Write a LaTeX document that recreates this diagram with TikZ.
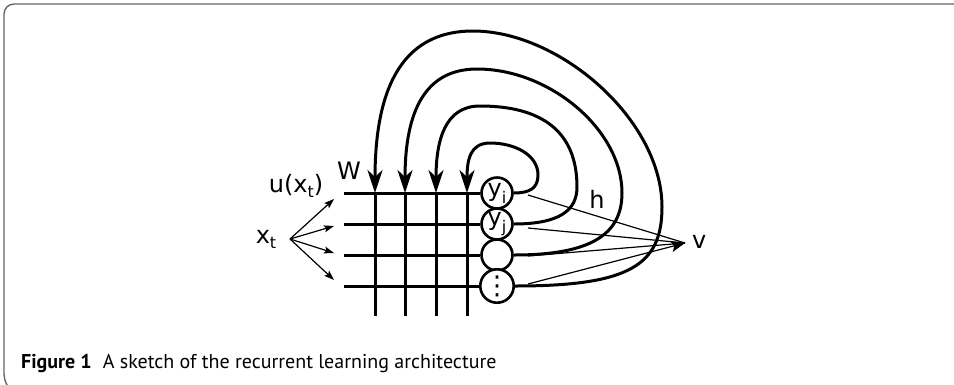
\documentclass[tikz,border=0pt]{standalone}
\usepackage{fontspec}
\setmainfont{DejaVu Sans}
\newfontfamily\capfont{PT Sans}
\usetikzlibrary{arrows.meta}
\begin{document}
\begin{tikzpicture}[x=1pt,y=-1pt,
  thickline/.style={line width=3pt,black},
  thinline/.style={line width=1.2pt,black},
  bigtip/.style={-{Stealth[length=23pt,width=15pt,inset=7pt]}},
  smalltip/.style={-{Stealth[length=10pt,width=7pt,inset=2pt]}},
  unit/.style={circle,draw,line width=2.6pt,minimum size=31pt,inner sep=0pt,fill=white},
  lab/.style={font=\fontsize{24}{26}\selectfont,inner sep=0pt},
  frameline/.style={draw=black!60,line width=1.4pt}]
\useasboundingbox (0,0) rectangle (954,384);
% frame
\draw[frameline,rounded corners=10pt] (960,4) -- (4,4) -- (4,384) -- (14,394);
% grid rows and columns
\foreach \r/\yy in {1/193,2/224,3/255,4/286}{
  \coordinate (rowL\r) at (344,\yy);
}
\foreach \c/\xx in {1/375,2/405,3/436,4/467}{
  \coordinate (colT\c) at (\xx,193);
  \coordinate (colB\c) at (\xx,316);
  \draw[thickline] (colT\c) -- (colB\c);
}
% units
\node[unit,lab] (y1) at (497,193) {\raisebox{2pt}{y}\raisebox{-5pt}{\fontsize{16}{16}\selectfont i}};
\node[unit,lab] (y2) at (497,224) {\raisebox{2pt}{y}\raisebox{-5pt}{\fontsize{16}{16}\selectfont j}};
\node[unit] (y3) at (497,255) {};
\node[unit,lab] (y4) at (497,286) {\raisebox{0pt}{\fontsize{26}{26}\selectfont ⋮}};
\draw[thickline] (rowL1) -- (y1.west);
\draw[thickline] (rowL2) -- (y2.west);
\draw[thickline] (rowL3) -- (y3.west);
\draw[thickline] (rowL4) -- (y4.west);
% recurrent loops
\draw[thickline,bigtip] (y1.east) .. controls (530,193) and (538,188) .. (538,175)
  .. controls (538,155) and (515,143) .. (490,143)
  .. controls (470,143) and (467,160) .. (colT4);
\draw[thickline,bigtip] (y2.east) .. controls (560,224) and (577,210) .. (577,187)
  .. controls (577,130) and (540,106) .. (480,106)
  .. controls (445,106) and (436,140) .. (colT3);
\draw[thickline,bigtip] (y3.east) .. controls (590,255) and (622,235) .. (622,193)
  .. controls (622,130) and (550,69) .. (477,69)
  .. controls (420,69) and (405,120) .. (colT2);
\draw[thickline,bigtip] (y4.east) .. controls (630,286) and (662,265) .. (662,207)
  .. controls (662,120) and (560,31) .. (473,31)
  .. controls (398,31) and (375,95) .. (colT1);
% labels
\node[lab] (W) at (349,171) {W};
\node[lab] (u) at (296,186) {u(x\raisebox{-5pt}{\fontsize{16}{16}\selectfont t})};
\node[lab] (xt) at (266,239) {x\raisebox{-5pt}{\fontsize{16}{16}\selectfont t}};
\node[lab] (h) at (597,199) {h};
\node[lab,anchor=west] (v) at (692,242) {v};
% input fan
\coordinate (fan) at (290,239);
\coordinate (in1) at (334,199);
\coordinate (in2) at (334,226);
\coordinate (in3) at (334,253);
\coordinate (in4) at (334,280);
\foreach \k in {1,2,3,4}{\draw[thinline,smalltip] (fan) -- (in\k);}
% output lines
\coordinate (vt) at (685,243);
\coordinate (o1) at (528,195);
\coordinate (o2) at (528,228);
\coordinate (o3) at (528,256);
\coordinate (o4) at (528,284);
\foreach \k in {1,2,3}{\draw[thinline] (o\k) -- (vt);}
\draw[thinline,-{Stealth[length=14pt,width=11pt,inset=3pt]}] (o4) -- (vt);
% caption
\node[anchor=base west,inner sep=0pt,font=\capfont\fontsize{20}{22}\selectfont] (cap) at (21,368)
  {\textbf{Figure 1}\hspace{0.55em}A sketch of the recurrent learning architecture};
\end{tikzpicture}
\end{document}
